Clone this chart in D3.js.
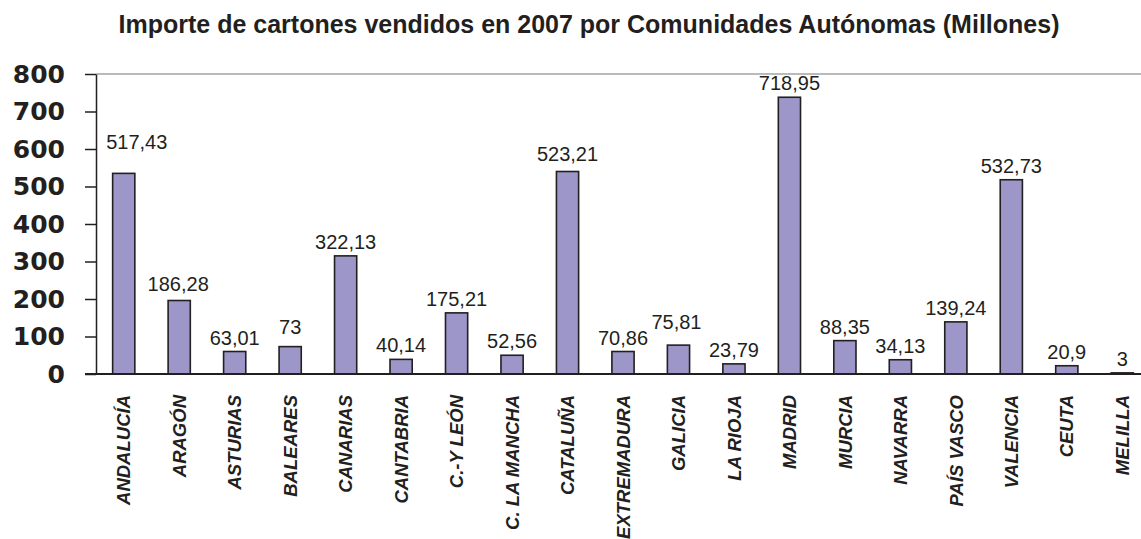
<!DOCTYPE html>
<html>
<head>
<meta charset="utf-8">
<script src="https://cdn.jsdelivr.net/npm/d3@7"></script>
<style>
  body { margin: 0; background: #fff; }
  svg { display: block; overflow: hidden; }
</style>
</head>
<body>
<div class="chart"></div>
<script>
const categories = ['ANDALUCÍA', 'ARAGÓN', 'ASTURIAS', 'BALEARES', 'CANARIAS', 'CANTABRIA', 'C.-Y LEÓN',
  'C. LA MANCHA', 'CATALUÑA', 'EXTREMADURA', 'GALICIA', 'LA RIOJA', 'MADRID', 'MURCIA', 'NAVARRA',
  'PAÍS VASCO', 'VALENCIA', 'CEUTA', 'MELILLA']
// bar heights as drawn in the picture (they do not exactly follow the printed labels)
const barValues = [535, 196, 60, 73, 315, 39, 163, 50, 540, 60, 77, 27, 738, 89, 38, 139, 518, 22, 3]
// printed value labels
const labelValues = ['517,43', '186,28', '63,01', '73', '322,13', '40,14', '175,21', '52,56', '523,21',
  '70,86', '75,81', '23,79', '718,95', '88,35', '34,13', '139,24', '532,73', '20,9', '3']
const yTicks = [0, 100, 200, 300, 400, 500, 600, 700, 800]

// SETUP
// ----------------------------
const margin = { top: 74, bottom: 165, left: 96, right: 0 }
const fullWidth = 1141
const fullHeight = 539
const width = 1054   // the plot runs a little past the right edge of the picture
const height = fullHeight - margin.top - margin.bottom

const root = d3.select('.chart')
  .append('svg')
    .attr('width', fullWidth)
    .attr('height', fullHeight)

root.append('text')
  .attr('x', 589)
  .attr('y', 33)
  .attr('text-anchor', 'middle')
  .style('font-family', 'Liberation Sans, Arial, sans-serif')
  .style('font-weight', 'bold')
  .style('font-size', '25px')
  .style('fill', '#231f20')
  .text('Importe de cartones vendidos en 2007 por Comunidades Autónomas (Millones)')

const svg = root.append('g')
  .attr('transform', `translate(${margin.left}, ${margin.top})`)
// ----------------------------
// [END] SETUP

// SCALES
// ----------------------------
const xScale = d3.scaleBand()
  .domain(categories)
  .range([0, width])
  .paddingInner(0.6)
  .paddingOuter(0.3)

const yScale = d3.scaleLinear()
  .domain([0, 800])
  .range([height, 0])
// ----------------------------

// top frame line
svg.append('line')
  .attr('x1', 0).attr('x2', fullWidth)
  .attr('y1', yScale(800)).attr('y2', yScale(800))
  .style('stroke', '#a3a3a3')
  .style('stroke-width', 1.5)

// Y AXIS
// ----------------------------
const yAxis = d3.axisLeft(yScale)
  .tickValues(yTicks)
  .tickSize(11)
  .tickPadding(20)
  .tickSizeOuter(0)
const yG = svg.append('g').call(yAxis)
yG.select('.domain').style('stroke', '#231f20').style('stroke-width', 1.5)
yG.selectAll('.tick line').style('stroke', '#231f20').style('stroke-width', 1.5)
yG.selectAll('.tick text')
  .style('font-family', 'DejaVu Sans, sans-serif')
  .style('font-weight', 'bold')
  .style('font-size', '25px')
  .style('fill', '#231f20')
// ----------------------------

// BARS
// ----------------------------
svg.selectAll('rect.bar')
  .data(barValues)
  .enter()
  .append('rect')
  .attr('class', 'bar')
  .attr('x', (d, i) => xScale(categories[i]))
  .attr('y', d => yScale(d))
  .attr('width', xScale.bandwidth())
  .attr('height', d => height - yScale(d))
  .style('fill', '#9c96c9')
  .style('stroke', '#231f20')
  .style('stroke-width', 1.6)

// baseline (drawn over the bars)
svg.append('line')
  .attr('x1', -11).attr('x2', fullWidth)
  .attr('y1', yScale(0)).attr('y2', yScale(0))
  .style('stroke', '#231f20')
  .style('stroke-width', 2)

// value labels, a few sit a bit away from their bar in the original
const labelNudge = { 'ANDALUCÍA': [13, 17], 'ARAGÓN': [-1, 3], 'BALEARES': [0, 6], 'CATALUÑA': [0, 4], 'GALICIA': [-2, 9] }
svg.selectAll('text.value')
  .data(labelValues)
  .enter()
  .append('text')
  .attr('class', 'value')
  .attr('x', (d, i) => xScale(categories[i]) + xScale.bandwidth() / 2 + (labelNudge[categories[i]] || [0, 0])[0])
  .attr('y', (d, i) => yScale(barValues[i]) - 7 - (labelNudge[categories[i]] || [0, 0])[1])
  .attr('text-anchor', 'middle')
  .style('font-family', 'Liberation Sans, Arial, sans-serif')
  .style('font-size', '20px')
  .style('fill', '#231f20')
  .text(d => d)
// ----------------------------

// CATEGORY LABELS
// ----------------------------
svg.selectAll('text.cat')
  .data(categories)
  .enter()
  .append('text')
  .attr('class', 'cat')
  .attr('transform', d => `translate(${xScale(d) + xScale.bandwidth() / 2}, ${height + 21}) rotate(-90)`)
  .attr('text-anchor', 'end')
  .attr('dy', '0.36em')
  .style('font-family', 'Liberation Sans, Arial, sans-serif')
  .style('font-weight', 'bold')
  .style('font-style', 'italic')
  .style('font-size', '18.5px')
  .style('fill', '#231f20')
  .text(d => d)
// ----------------------------
</script>
</body>
</html>
